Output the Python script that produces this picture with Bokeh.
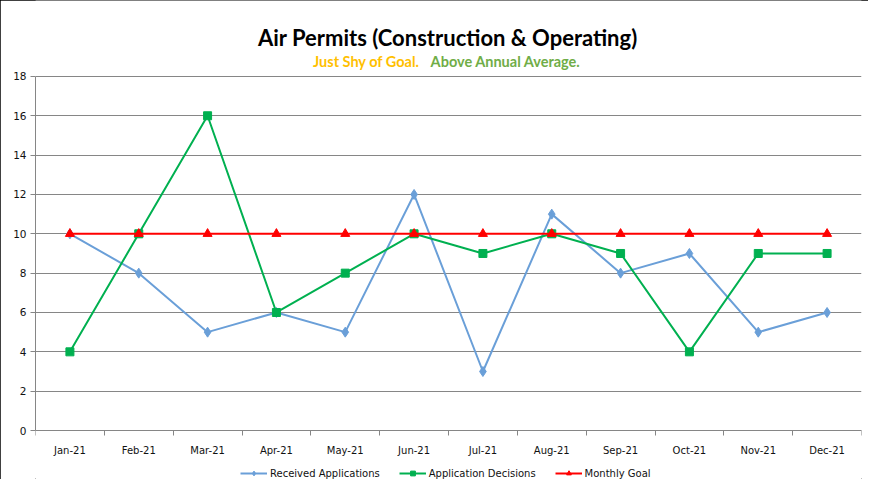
from bokeh.plotting import figure
from bokeh.models import (FixedTicker, Label, Legend, LegendItem, Range1d)
from bokeh.embed import file_html
from bokeh.resources import INLINE

months = ["Jan-21", "Feb-21", "Mar-21", "Apr-21", "May-21", "Jun-21",
          "Jul-21", "Aug-21", "Sep-21", "Oct-21", "Nov-21", "Dec-21"]
received = [10, 8, 5, 6, 5, 12, 3, 11, 8, 9, 5, 6]
decisions = [4, 10, 16, 6, 8, 10, 9, 10, 9, 4, 9, 9]
goal = [10, 10, 10, 10, 10, 10, 10, 10, 10, 10, 10, 10]
y_ticks = [0, 2, 4, 6, 8, 10, 12, 14, 16, 18]

title_text = "Air Permits (Construction & Operating)"
sub1 = "Just Shy of Goal."
sub2 = "Above Annual Average."

xs = [i + 0.5 for i in range(len(months))]
y_top = 18

p = figure(width=868, height=479, output_backend="svg", toolbar_location=None,
           x_range=Range1d(0, len(months)), y_range=Range1d(-2.49, 21.86),
           min_border_left=35, min_border_right=7, min_border_top=0,
           min_border_bottom=0)
p.styles = {"outline": "1px solid black", "outline-offset": "-1px"}
p.outline_line_color = None
p.background_fill_color = "white"
p.border_fill_color = "white"

grey = "#868686"
tick_font = "DejaVu Sans"

# x axis (pinned at y=0 inside the frame)
p.xaxis.fixed_location = 0
p.xaxis.ticker = FixedTicker(ticks=xs, minor_ticks=list(range(len(months) + 1)))
p.xaxis.major_label_overrides = {x: m for x, m in zip(xs, months)}
p.xaxis.major_tick_line_color = None
p.xaxis.minor_tick_line_color = grey
p.xaxis.minor_tick_out = 5
p.xaxis.minor_tick_in = 0
p.xaxis.axis_line_color = grey
p.xaxis.major_label_text_font = tick_font
p.xaxis.major_label_text_font_size = "10px"
p.xaxis.major_label_text_color = "#111111"
p.xaxis.major_label_standoff = 8
p.xgrid.grid_line_color = None

# y axis
p.yaxis.ticker = FixedTicker(ticks=y_ticks)
p.yaxis.bounds = (0, y_top)
p.yaxis.minor_tick_line_color = None
p.yaxis.major_tick_line_color = grey
p.yaxis.major_tick_out = 5
p.yaxis.major_tick_in = 0
p.yaxis.axis_line_color = grey
p.yaxis.major_label_text_font = tick_font
p.yaxis.major_label_text_font_size = "10.5px"
p.yaxis.major_label_text_color = "#111111"
p.yaxis.major_label_standoff = 4
p.ygrid.ticker = FixedTicker(ticks=y_ticks)
p.ygrid.grid_line_color = grey
p.ygrid.grid_line_width = 1

blue = "#6A9FD8"
green = "#00B050"
red = "#FF0000"

l1 = p.line(xs, received, line_color=blue, line_width=2)
s1 = p.scatter(xs, received, marker="diamond", size=10, fill_color=blue, line_color=blue)
l2 = p.line(xs, decisions, line_color=green, line_width=2)
s2 = p.scatter(xs, decisions, marker="square", size=8, fill_color=green, line_color=green)
l3 = p.line(xs, goal, line_color=red, line_width=2)
s3 = p.scatter(xs, goal, marker="triangle", size=9, fill_color=red, line_color=red)

legend = Legend(items=[
    LegendItem(label="Received Applications", renderers=[l1, s1]),
    LegendItem(label="Application Decisions", renderers=[l2, s2]),
    LegendItem(label="Monthly Goal", renderers=[l3, s3]),
], orientation="horizontal", location=(205, 0),
    label_text_font=tick_font, label_text_font_size="10px",
    label_text_color="#111111", glyph_width=27, glyph_height=12,
    label_standoff=3, spacing=19, padding=0, margin=0,
    label_height=12,
    border_line_color=None, background_fill_alpha=0)
p.add_layout(legend, "center")

p.add_layout(Label(x=5.99, y=20.0, text=title_text,
                   text_font="Lato", text_font_style="bold",
                   text_font_size="22px", text_align="center",
                   text_baseline="middle", text_color="black"))
p.add_layout(Label(x=5.58, y=18.76, text=sub1, text_font="Lato",
                   text_font_style="bold", text_font_size="14.5px",
                   text_align="right", text_baseline="middle",
                   text_color="#FFC000"))
p.add_layout(Label(x=5.74, y=18.76, text=sub2, text_font="Lato",
                   text_font_style="bold", text_font_size="14.5px",
                   text_align="left", text_baseline="middle",
                   text_color="#70AD47"))

open("out.html", "w").write(file_html(p, INLINE))
